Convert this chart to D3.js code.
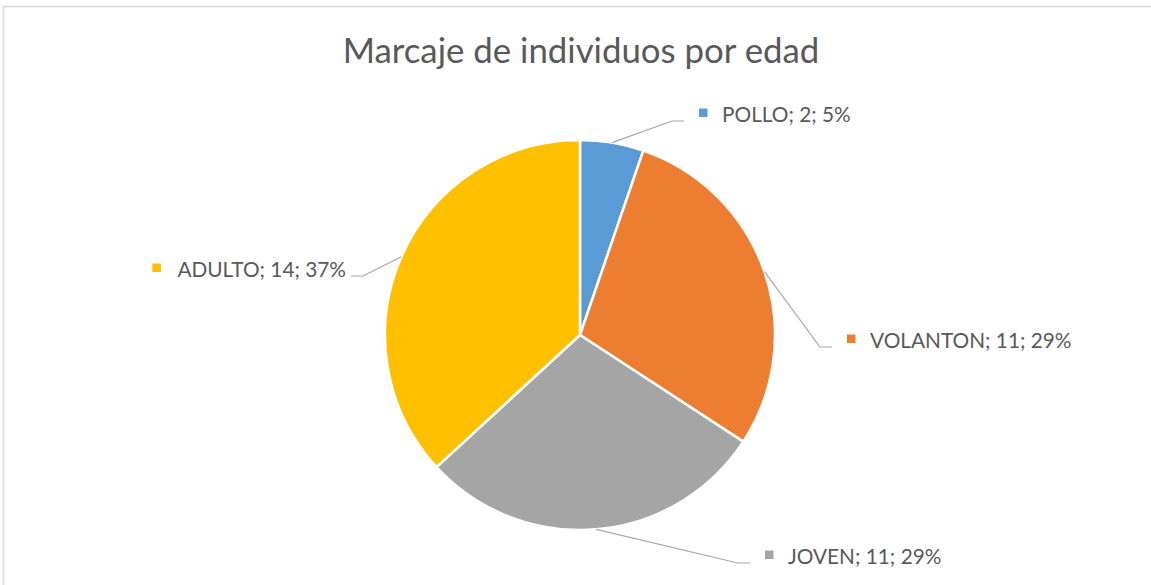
<!DOCTYPE html>
<html>
<head>
<meta charset="utf-8">
<title>Marcaje de individuos por edad</title>
<script src="https://cdn.jsdelivr.net/npm/d3@7/dist/d3.min.js"></script>
<style>
  body { margin: 0; background: #fff; }
  text { font-family: Lato, "Open Sans", sans-serif; fill: #595959; }
</style>
</head>
<body>
<div id="chart"></div>
<script>
// data
const categories = ["POLLO", "VOLANTON", "JOVEN", "ADULTO"];
const counts = [2, 11, 11, 14];
const percents = ["5%", "29%", "29%", "37%"];
const colours = ["#5b9bd5", "#ed7d31", "#a5a5a5", "#ffc000"];

// layout: leader elbow offsets from pie centre, and side of label
const elbows = [[92, -214, "r"], [240, 12, "r"], [158, 228, "r"], [-217, -59, "l"]];

const width = 1151, height = 585;
const cx = 580, cy = 335, radius = 195;

const svg = d3.select("#chart").append("svg")
    .attr("width", width)
    .attr("height", height);

// chart border
svg.append("rect")
    .attr("x", 3.5).attr("y", 6.5)
    .attr("width", width + 10).attr("height", height + 10)
    .attr("fill", "none")
    .attr("stroke", "#d9d9d9")
    .attr("stroke-width", 1.5);

svg.append("text")
    .attr("x", 581)
    .attr("y", 63)
    .attr("text-anchor", "middle")
    .style("font-size", "34.8px")
    .text("Marcaje de individuos por edad");

const rows = categories.map((c, i) => ({cat: c, value: counts[i], pct: percents[i], colour: colours[i], elbow: elbows[i]}));

const pie = d3.pie().sort(null).value(d => d.value);
const arc = d3.arc().innerRadius(0).outerRadius(radius);

const g = svg.append("g").attr("transform", `translate(${cx},${cy})`);

const arcs = pie(rows);

g.selectAll("path.slice")
  .data(arcs)
  .join("path")
    .attr("class", "slice")
    .attr("d", arc)
    .attr("fill", d => d.data.colour)
    .attr("stroke", "#fff")
    .attr("stroke-width", 2.5);

// labels with leader lines
const labels = g.selectAll("g.label")
  .data(arcs)
  .join("g")
    .attr("class", "label");

labels.each(function(d) {
    const sel = d3.select(this);
    const mid = (d.startAngle + d.endAngle) / 2;
    const sx = radius * Math.sin(mid), sy = -radius * Math.cos(mid);
    const [ex, ey, side] = d.data.elbow;
    const dir = side === "r" ? 1 : -1;
    const hx = ex + dir * 12;

    sel.append("polyline")
        .attr("points", [[sx, sy], [ex, ey], [hx, ey]].map(p => p.join(",")).join(" "))
        .attr("fill", "none")
        .attr("stroke", "#a6a6a6")
        .attr("stroke-width", 1.2);

    const txt = sel.append("text")
        .attr("y", ey + 1)
        .style("font-size", "20.8px")
        .text(`${d.data.cat}; ${d.data.value}; ${d.data.pct}`);

    let boxX;
    if (side === "r") {
        boxX = hx + 15;
        txt.attr("x", boxX + 23);
    } else {
        const w = txt.node().getComputedTextLength();
        const tx = hx - 5 - w;
        txt.attr("x", tx);
        boxX = tx - 25;
    }
    sel.append("rect")
        .attr("x", boxX)
        .attr("y", ey - 12.5)
        .attr("width", 8.5)
        .attr("height", 8.5)
        .attr("fill", d.data.colour);
});
</script>
</body>
</html>
